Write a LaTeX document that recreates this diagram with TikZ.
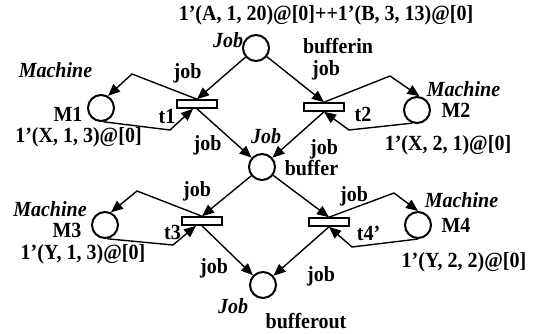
\documentclass[tikz,border=0pt]{standalone}
\usepackage{fontspec}
\setmainfont{Liberation Serif}
\usetikzlibrary{arrows.meta}
\begin{document}
\begin{tikzpicture}[x=1pt,y=-1pt,
  place/.style={circle,draw,line width=2pt,minimum size=26pt,inner sep=0pt},
  trans/.style={rectangle,draw,line width=1.6pt,minimum width=40pt,minimum height=8pt,inner sep=0pt,fill=white},
  arc/.style={line width=1.4pt,-{Triangle[length=12pt,width=10pt]}},
  lbl/.style={font=\fontsize{20}{22}\selectfont\bfseries,inner sep=0pt,yscale=1.08},
  typ/.style={font=\fontsize{20}{22}\selectfont\bfseries\itshape,inner sep=0pt,yscale=1.08}]
\useasboundingbox (0,0) rectangle (544,333);
% places
\node[place] (bufferin) at (256,48) {};
\node[place] (buffer) at (262,167) {};
\node[place] (bufferout) at (263,285) {};
\node[place] (M1) at (101,108) {};
\node[place] (M2) at (417,110) {};
\node[place] (M3) at (105,225) {};
\node[place] (M4) at (418,225) {};
% transitions
\node[trans] (t1) at (197,104) {};
\node[trans] (t2) at (324,107) {};
\node[trans] (t3) at (202,221) {};
\node[trans] (t4) at (329,222) {};
% corner points
\coordinate (c1a) at (132,74);
\coordinate (c1b) at (170,130);
\coordinate (c2a) at (390,76);
\coordinate (c2b) at (349,130);
\coordinate (c3a) at (137,191);
\coordinate (c3b) at (173,245);
\coordinate (c4a) at (394,193);
\coordinate (c4b) at (352,247);
% arcs
\draw[arc] (bufferin) -- (t1.north);
\draw[arc] (bufferin) -- (t2.north);
\draw[arc] (t1.south) -- (buffer);
\draw[arc] (t2.south) -- (buffer);
\draw[arc] (buffer) -- (t3.north);
\draw[arc] (buffer) -- (t4.north);
\draw[arc] (t3.south) -- (bufferout);
\draw[arc] (t4.south) -- (bufferout);
\draw[arc] (t1.north) -- (c1a) -- (M1.60);
\draw[arc] (M1.-80) -- (c1b) -- ([xshift=-4pt]t1.south);
\draw[arc] (t2.north) -- (c2a) -- (M2.80);
\draw[arc] (M2.-110) -- (c2b) -- (t2.south);
\draw[arc] (t3.north) -- (c3a) -- (M3.65);
\draw[arc] (M3.-80) -- (c3b) -- ([xshift=-6pt]t3.south);
\draw[arc] (t4.north) -- (c4a) -- (M4.north);
\draw[arc] (M4.south) -- (c4b) -- (t4.south);
% labels
\node[lbl] (init) at (326,15) {1’(A, 1, 20)@[0]++1’(B, 3, 13)@[0]};
\node[typ] (tyin) at (228,40) {Job};
\node[lbl] (nin) at (338,46) {bufferin};
\node[lbl] (j1) at (326,70) {job};
\node[typ] (ty1) at (55.5,70) {Machine};
\node[lbl] (j2) at (187.5,73) {job};
\node[lbl] (nm1) at (68,114.5) {M1};
\node[lbl] (nt1) at (167,116.5) {t1};
\node[lbl] (i1) at (78.5,137.5) {1’(X, 1, 3)@[0]};
\node[lbl] (j3) at (207.5,145) {job};
\node[typ] (ty2) at (463.5,89.5) {Machine};
\node[lbl] (nm2) at (456,110.5) {M2};
\node[lbl] (nt2) at (363,114.5) {t2};
\node[lbl] (i2) at (448,145.5) {1’(X, 2, 1)@[0]};
\node[lbl] (j4) at (324,149.5) {job};
\node[typ] (tyb) at (266,136.5) {Job};
\node[lbl] (nb) at (311.5,168.5) {buffer};
\node[lbl] (j5) at (197,191.5) {job};
\node[typ] (ty3) at (50,209.5) {Machine};
\node[lbl] (nm3) at (67,230.5) {M3};
\node[lbl] (nt3) at (172.5,232.5) {t3};
\node[lbl] (i3) at (83,254) {1’(Y, 1, 3)@[0]};
\node[lbl] (j6) at (354,196.5) {job};
\node[typ] (ty4) at (461.5,200) {Machine};
\node[lbl] (nm4) at (456,225.5) {M4};
\node[lbl] (nt4) at (368.5,233.5) {t4’};
\node[lbl] (i4) at (464,262.5) {1’(Y, 2, 2)@[0]};
\node[lbl] (j7) at (214,268.5) {job};
\node[lbl] (j8) at (321,276) {job};
\node[typ] (tyo) at (233,306.5) {Job};
\node[lbl] (nout) at (306,321.5) {bufferout};
\end{tikzpicture}
\end{document}
